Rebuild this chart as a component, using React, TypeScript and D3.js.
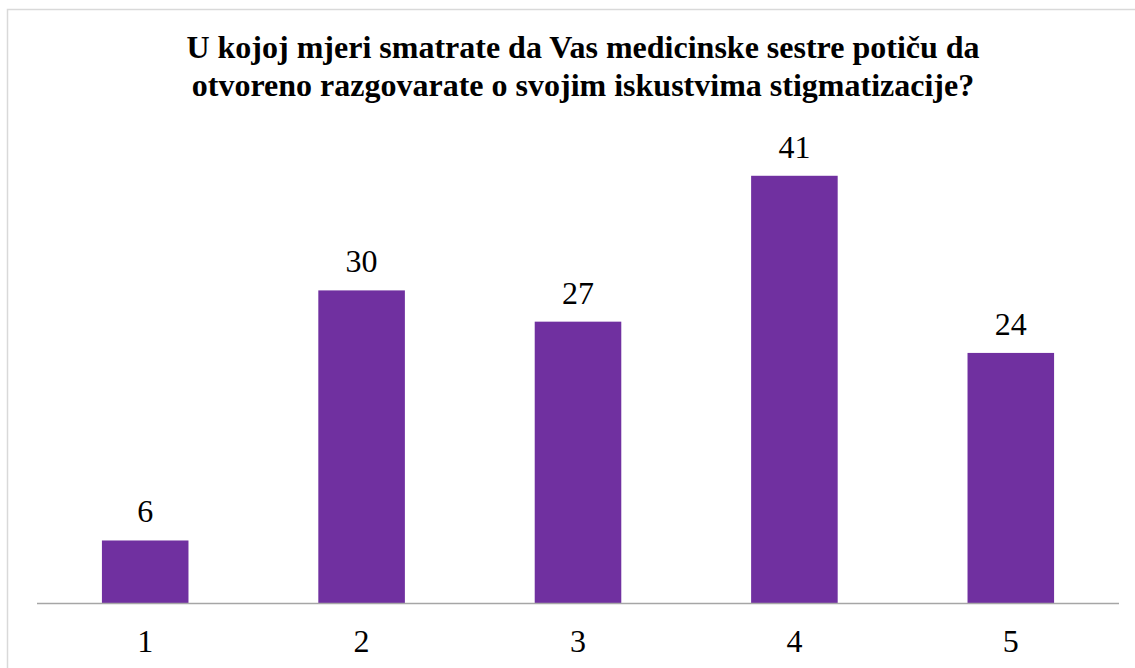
import React, { useEffect, useRef } from 'react';
import * as d3 from 'd3';

const categories = ['1', '2', '3', '4', '5'];
const values = [6, 30, 27, 41, 24];
const titleLines = [
  'U kojoj mjeri smatrate da Vas medicinske sestre potiču da',
  'otvoreno razgovarate o svojim iskustvima stigmatizacije?',
];

const W = 1135;
const H = 668;

const App = () => {
  const svgRef = useRef<SVGSVGElement>(null);

  useEffect(() => {
    const svg = d3.select(svgRef.current);
    svg.selectAll('*').remove();

    const font = "'Liberation Serif', 'DejaVu Serif', serif";
    const baseY = 603;

    // outer chart frame (cropped on right/bottom)
    svg.append('rect')
      .attr('x', 7.5).attr('y', 9.5)
      .attr('width', 1200).attr('height', 700)
      .attr('fill', '#fff')
      .attr('stroke', '#d9d9d9')
      .attr('stroke-width', 1.5);

    svg.append('text')
      .attr('x', 583)
      .attr('text-anchor', 'middle')
      .style('font-family', font)
      .attr('font-weight', 'bold')
      .attr('font-size', 32)
      .attr('fill', '#000')
      .selectAll('tspan')
      .data(titleLines)
      .enter()
      .append('tspan')
      .attr('x', 583)
      .attr('y', (d, i) => 58 + i * 37.5)
      .text(d => d);

    const x = d3.scaleBand()
      .domain(categories)
      .range([37, 1119])
      .paddingInner(0.6)
      .paddingOuter(0.3);

    const y = d3.scaleLinear()
      .domain([0, 45])
      .range([baseY, baseY - 45 * 10.42]);

    const data = categories.map((c, i) => ({ c, v: values[i] }));

    svg.selectAll('rect.bar')
      .data(data)
      .enter()
      .append('rect')
      .attr('class', 'bar')
      .attr('x', d => x(d.c))
      .attr('y', d => y(d.v))
      .attr('width', x.bandwidth())
      .attr('height', d => baseY - y(d.v))
      .attr('fill', '#7030a0');

    svg.append('line')
      .attr('x1', 37).attr('x2', 1119)
      .attr('y1', baseY + 0.5).attr('y2', baseY + 0.5)
      .attr('stroke', '#a6a6a6')
      .attr('stroke-width', 1.5);

    svg.selectAll('text.val')
      .data(data)
      .enter()
      .append('text')
      .attr('class', 'val')
      .attr('x', d => x(d.c) + x.bandwidth() / 2)
      .attr('y', d => y(d.v) - 18)
      .attr('text-anchor', 'middle')
      .style('font-family', font)
      .attr('font-size', 32)
      .attr('fill', '#000')
      .text(d => d.v);

    svg.selectAll('text.cat')
      .data(data)
      .enter()
      .append('text')
      .attr('class', 'cat')
      .attr('x', d => x(d.c) + x.bandwidth() / 2)
      .attr('y', 652)
      .attr('text-anchor', 'middle')
      .style('font-family', font)
      .attr('font-size', 32)
      .attr('fill', '#000')
      .text(d => d.c);
  }, []);

  return (
    <svg
      ref={svgRef}
      width={W}
      height={H}
      style={{ position: 'absolute', left: 0, top: 0, background: '#fff' }}
    />
  );
};

export default App;
